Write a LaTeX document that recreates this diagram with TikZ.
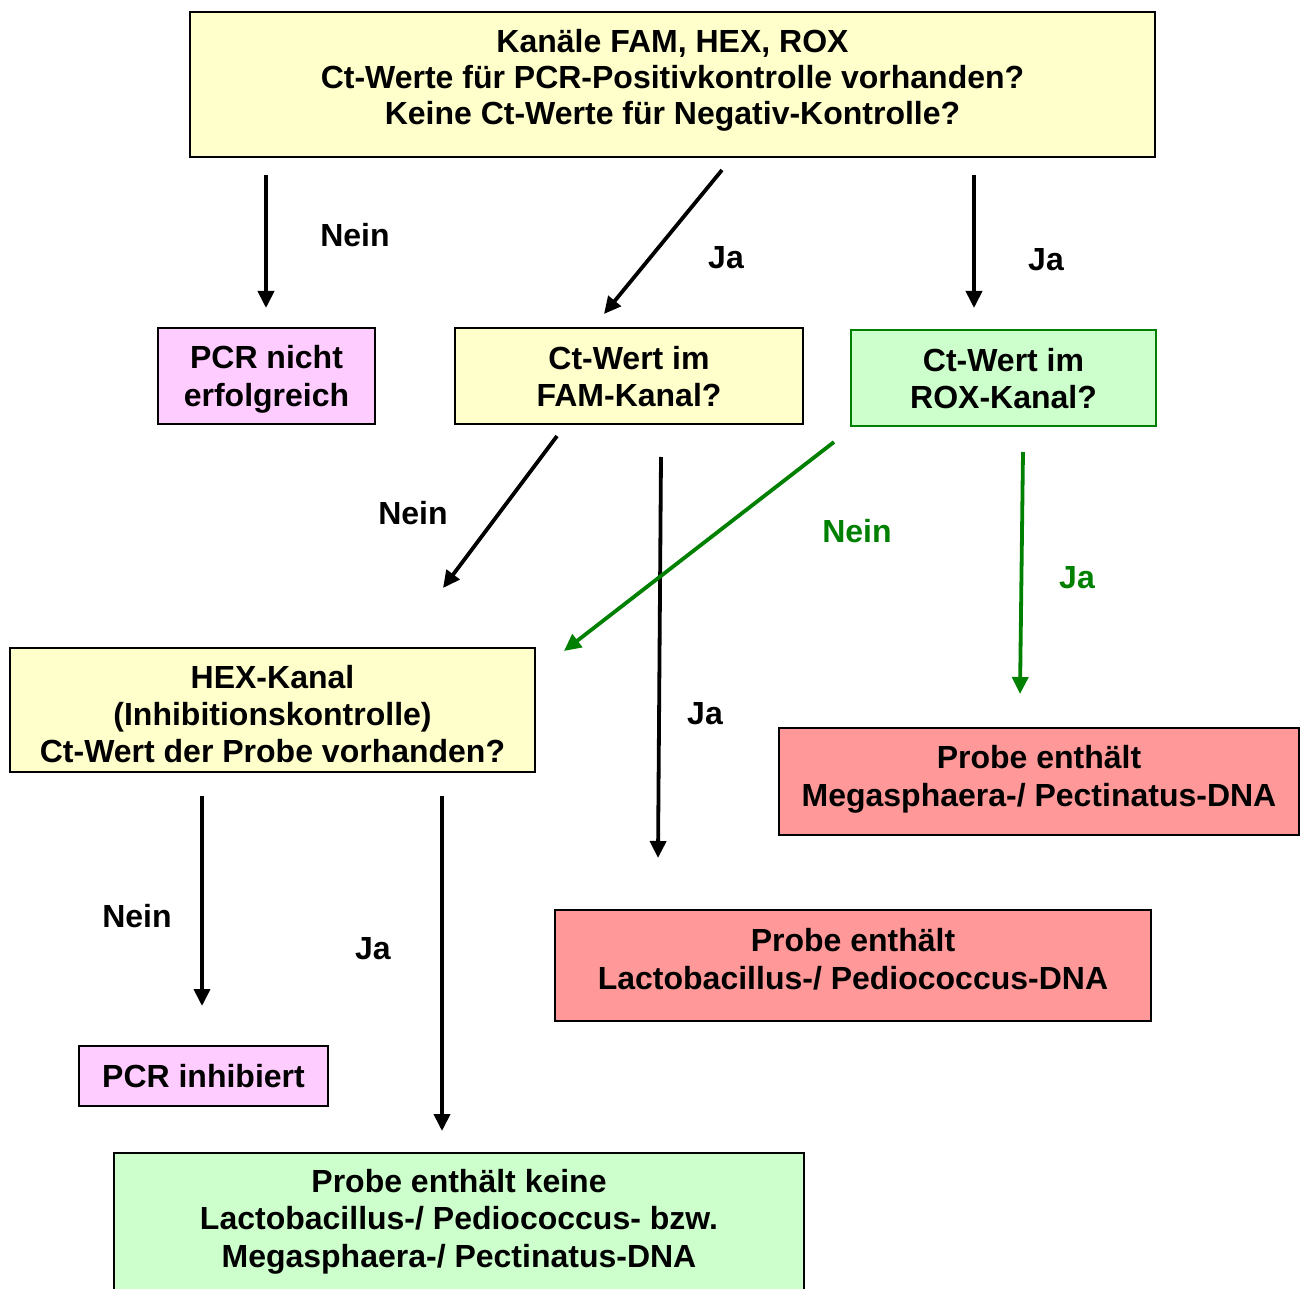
\documentclass[tikz,border=0pt]{standalone}
\usepackage{fontspec}
\setmainfont{Liberation Sans}
\usetikzlibrary{arrows.meta}
\definecolor{cyellow}{HTML}{FFFFCC}
\definecolor{cpink}{HTML}{FFCCFF}
\definecolor{cgreenfill}{HTML}{CCFFCC}
\definecolor{cred}{HTML}{FF9999}
\definecolor{cgreen}{HTML}{008000}
\tikzset{
  box/.style={draw=black, line width=1.8pt, inner sep=0pt},
  ybox/.style={box, fill=cyellow},
  pbox/.style={box, fill=cpink},
  gbox/.style={box, fill=cgreenfill},
  rbox/.style={box, fill=cred},
  btext/.style={align=center, inner sep=0pt, font=\fontsize{32}{37}\selectfont\bfseries, text=black},
  conn/.style={line width=3.8pt, -{Triangle[length=17pt,width=16pt]}},
  gconn/.style={conn, draw=cgreen},
  lbl/.style={font=\fontsize{32}{37}\selectfont\bfseries, inner sep=0pt},
  glbl/.style={lbl, text=cgreen}
}
\begin{document}
\begin{tikzpicture}[x=1pt,y=-1pt]
\useasboundingbox (0,0) rectangle (1307,1289);
\clip (0,0) rectangle (1307,1289);
% boxes
\node[ybox, minimum width=965pt, minimum height=145pt] (top) at (672.5,84.5) {};
\node[btext, font=\fontsize{32}{36}\selectfont\bfseries] (top-t) at (672.5,80)
  {Kanäle FAM, HEX, ROX\\Ct-Werte für PCR-Positivkontrolle vorhanden?\\Keine Ct-Werte für Negativ-Kontrolle?};
\node[pbox, minimum width=217pt, minimum height=96pt] (fail) at (266.5,376) {};
\node[btext, font=\fontsize{32}{37.5}\selectfont\bfseries] (fail-t) at (266.5,379.5) {PCR nicht\\erfolgreich};
\node[ybox, minimum width=348pt, minimum height=96pt] (fam) at (629,376) {};
\node[btext] (fam-t) at (629,376.5) {Ct-Wert im\\FAM-Kanal?};
\node[gbox, draw=cgreen, minimum width=305pt, minimum height=96pt] (rox) at (1003.5,378) {};
\node[btext] (rox-t) at (1003.5,378.5) {Ct-Wert im\\ROX-Kanal?};
\node[ybox, minimum width=525pt, minimum height=124pt] (hex) at (272.5,710) {};
\node[btext] (hex-t) at (272.5,714) {HEX-Kanal\\(Inhibitionskontrolle)\\Ct-Wert der Probe vorhanden?};
\node[rbox, minimum width=520pt, minimum height=107pt] (mega) at (1039,781.5) {};
\node[btext, font=\fontsize{32}{38}\selectfont\bfseries] (mega-t) at (1039,779) {Probe enthält\\Megasphaera-/ Pectinatus-DNA};
\node[rbox, minimum width=596pt, minimum height=111pt] (lacto) at (853,965.5) {};
\node[btext, font=\fontsize{32}{38}\selectfont\bfseries] (lacto-t) at (853,959) {Probe enthält\\Lactobacillus-/ Pediococcus-DNA};
\node[pbox, minimum width=249pt, minimum height=60pt] (inhib) at (203.5,1076) {};
\node[btext] (inhib-t) at (203.5,1076) {PCR inhibiert};
\node[gbox, minimum width=690pt, minimum height=160pt] (none) at (459,1233) {};
\node[btext, font=\fontsize{32}{37.5}\selectfont\bfseries] (none-t) at (459,1221.5) {Probe enthält keine\\Lactobacillus-/ Pediococcus- bzw.\\Megasphaera-/ Pectinatus-DNA};
% connector end points
\coordinate (a1s) at (266,175); \coordinate (a1e) at (266,308);
\coordinate (a2s) at (722,170); \coordinate (a2e) at (604,314);
\coordinate (a3s) at (974,175); \coordinate (a3e) at (974,308);
\coordinate (a4s) at (557,436); \coordinate (a4e) at (443,588);
\coordinate (a5s) at (661,457); \coordinate (a5e) at (658,858);
\coordinate (a6s) at (834,442); \coordinate (a6e) at (564,651);
\coordinate (a7s) at (1023,452); \coordinate (a7e) at (1020,694);
\coordinate (a8s) at (202,796); \coordinate (a8e) at (202,1006);
\coordinate (a9s) at (442,796); \coordinate (a9e) at (442,1131);
% connectors
\draw[conn] (a1s) -- (a1e);
\draw[conn] (a2s) -- (a2e);
\draw[conn] (a3s) -- (a3e);
\draw[conn] (a4s) -- (a4e);
\draw[conn] (a5s) -- (a5e);
\draw[gconn] (a6s) -- (a6e);
\draw[gconn] (a7s) -- (a7e);
\draw[conn] (a8s) -- (a8e);
\draw[conn] (a9s) -- (a9e);
% labels
\node[lbl] (l1) at (355,235) {Nein};
\node[lbl] (l2) at (726,258) {Ja};
\node[lbl] (l3) at (1046,260) {Ja};
\node[lbl] (l4) at (413,513) {Nein};
\node[lbl] (l5) at (705,714) {Ja};
\node[glbl] (l6) at (857,531) {Nein};
\node[glbl] (l7) at (1077,578) {Ja};
\node[lbl] (l8) at (137,916) {Nein};
\node[lbl] (l9) at (373,949) {Ja};
\end{tikzpicture}
\end{document}
